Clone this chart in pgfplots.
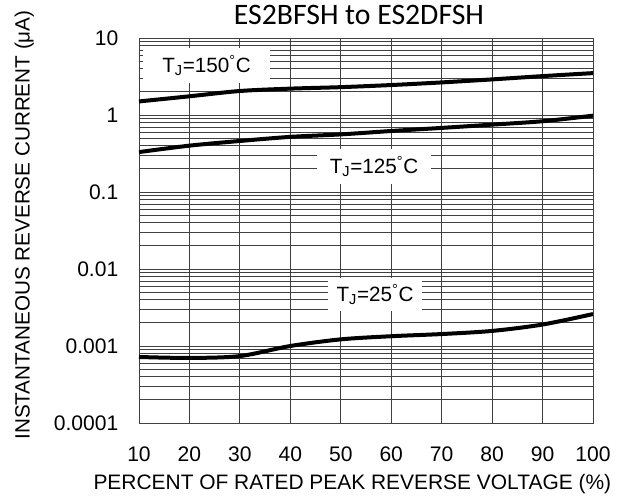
\documentclass[border=0pt]{standalone}
\usepackage{fontspec}
\setmainfont{Liberation Sans}
\newfontfamily\titlefont{Carlito}
\usepackage{pgfplots}
\pgfplotsset{compat=1.18}
\begin{document}
\begin{tikzpicture}
\path[use as bounding box] (-104.25pt,-55.5pt) rectangle (364.5pt,317.25pt);
\begin{axis}[
  at={(0,0)}, anchor=south west,
  scale only axis, width=340.5pt, height=288.75pt,
  xmin=10, xmax=100, ymode=log, ymin=0.0001, ymax=10,
  xtick={10,20,...,100},
  ytick={0.0001,0.001,0.01,0.1,1,10},
  yticklabels={0.0001,0.001,0.01,0.1,1,10},
  minor ytick={0.0002,0.0003,0.0004,0.0005,0.0006,0.0007,0.0008,0.0009,
               0.002,0.003,0.004,0.005,0.006,0.007,0.008,0.009,
               0.02,0.03,0.04,0.05,0.06,0.07,0.08,0.09,
               0.2,0.3,0.4,0.5,0.6,0.7,0.8,0.9,
               2,3,4,5,6,7,8,9},
  log basis y=10,
  xmajorgrids, ymajorgrids, yminorgrids,
  grid style={black!75, line width=0.6pt},
  minor grid style={black!75, line width=0.6pt},
  major tick length=0pt, minor tick length=0pt,
  axis line style={black!75, line width=0.6pt},
  tick label style={font=\fontsize{15.8}{18}\selectfont, black},
  /pgf/number format/assume math mode=true,
  xticklabel style={yshift=-14pt},
  yticklabel style={xshift=-12pt},
]
\addplot[black, line width=3pt, smooth] coordinates {
(10,1.5) (20,1.75) (30,2.05) (40,2.2) (50,2.3) (60,2.45) (70,2.65) (80,2.9) (90,3.2) (100,3.5)};
\addplot[black, line width=3pt, smooth] coordinates {
(10,0.33) (20,0.4) (30,0.46) (40,0.52) (50,0.56) (60,0.62) (70,0.68) (80,0.75) (90,0.83) (100,0.98)};
\addplot[black, line width=3pt, smooth] coordinates {
(10,0.00072) (20,0.00070) (30,0.00074) (40,0.00100) (50,0.00122) (60,0.00134) (70,0.00143) (80,0.00157) (90,0.0019) (100,0.0026)};
\node[fill=white, minimum width=95pt, minimum height=26pt, inner sep=0pt, font=\fontsize{15.5}{17}\selectfont] at (axis cs:23.4,4.43) {T\textsubscript{J}=150\textsuperscript{°}C};
\node[fill=white, minimum width=86pt, minimum height=26pt, inner sep=0pt, font=\fontsize{15.5}{17}\selectfont] at (axis cs:56.6,0.216) {T\textsubscript{J}=125\textsuperscript{°}C};
\node[fill=white, minimum width=70pt, minimum height=25pt, inner sep=0pt, font=\fontsize{15.5}{17}\selectfont] at (axis cs:56.8,0.0047) {T\textsubscript{J}=25\textsuperscript{°}C};
\end{axis}
\node[font=\titlefont\fontsize{22.3}{26}\selectfont] at (165pt,306pt) {ES2BFSH to ES2DFSH};
\node[font=\fontsize{15.7}{18}\selectfont] at (160pt,-45.5pt) {PERCENT OF RATED PEAK REVERSE VOLTAGE (\%)};
\node[font=\fontsize{15.5}{18}\selectfont, rotate=90] at (-86pt,148.5pt) {INSTANTANEOUS REVERSE CURRENT (μA)};
\end{tikzpicture}
\end{document}
